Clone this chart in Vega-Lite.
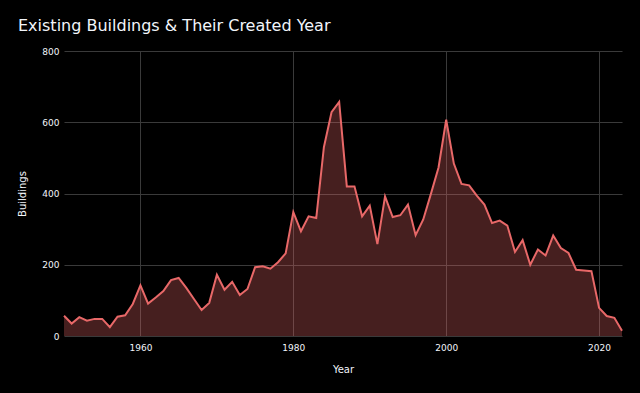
{
  "$schema": "https://vega.github.io/schema/vega-lite/v6.json",
  "width": 558,
  "height": 285,
  "autosize": {"type": "none"},
  "padding": {"left": 64, "top": 51, "right": 18, "bottom": 57},
  "background": "#000000",
  "title": {
    "text": "Existing Buildings & Their Created Year",
    "anchor": "start",
    "frame": "group",
    "dx": -46,
    "offset": 13,
    "font": "DejaVu Sans",
    "fontSize": 16,
    "fontWeight": "normal",
    "color": "#f2f5fa"
  },
  "config": {
    "view": {"stroke": null},
    "axis": {
      "labelFont": "DejaVu Sans",
      "titleFont": "DejaVu Sans",
      "labelFontSize": 9,
      "titleFontSize": 10,
      "titleFontWeight": "normal",
      "labelColor": "#f2f5fa",
      "titleColor": "#f2f5fa",
      "gridColor": "#3a3a3a",
      "gridWidth": 1,
      "domain": false,
      "ticks": false
    }
  },
  "data": {
    "values": [
      {"Year": 1950, "Buildings": 57},
      {"Year": 1951, "Buildings": 35},
      {"Year": 1952, "Buildings": 53},
      {"Year": 1953, "Buildings": 43},
      {"Year": 1954, "Buildings": 48},
      {"Year": 1955, "Buildings": 48},
      {"Year": 1956, "Buildings": 25},
      {"Year": 1957, "Buildings": 54},
      {"Year": 1958, "Buildings": 58},
      {"Year": 1959, "Buildings": 90},
      {"Year": 1960, "Buildings": 142},
      {"Year": 1961, "Buildings": 91},
      {"Year": 1962, "Buildings": 108},
      {"Year": 1963, "Buildings": 126},
      {"Year": 1964, "Buildings": 157},
      {"Year": 1965, "Buildings": 163},
      {"Year": 1966, "Buildings": 135},
      {"Year": 1967, "Buildings": 104},
      {"Year": 1968, "Buildings": 73},
      {"Year": 1969, "Buildings": 93},
      {"Year": 1970, "Buildings": 172},
      {"Year": 1971, "Buildings": 130},
      {"Year": 1972, "Buildings": 152},
      {"Year": 1973, "Buildings": 115},
      {"Year": 1974, "Buildings": 132},
      {"Year": 1975, "Buildings": 193},
      {"Year": 1976, "Buildings": 196},
      {"Year": 1977, "Buildings": 189},
      {"Year": 1978, "Buildings": 207},
      {"Year": 1979, "Buildings": 232},
      {"Year": 1980, "Buildings": 348},
      {"Year": 1981, "Buildings": 294},
      {"Year": 1982, "Buildings": 336},
      {"Year": 1983, "Buildings": 331},
      {"Year": 1984, "Buildings": 530},
      {"Year": 1985, "Buildings": 628},
      {"Year": 1986, "Buildings": 657},
      {"Year": 1987, "Buildings": 420},
      {"Year": 1988, "Buildings": 420},
      {"Year": 1989, "Buildings": 336},
      {"Year": 1990, "Buildings": 366},
      {"Year": 1991, "Buildings": 258},
      {"Year": 1992, "Buildings": 392},
      {"Year": 1993, "Buildings": 334},
      {"Year": 1994, "Buildings": 339},
      {"Year": 1995, "Buildings": 369},
      {"Year": 1996, "Buildings": 283},
      {"Year": 1997, "Buildings": 327},
      {"Year": 1998, "Buildings": 399},
      {"Year": 1999, "Buildings": 473},
      {"Year": 2000, "Buildings": 607},
      {"Year": 2001, "Buildings": 484},
      {"Year": 2002, "Buildings": 427},
      {"Year": 2003, "Buildings": 423},
      {"Year": 2004, "Buildings": 394},
      {"Year": 2005, "Buildings": 369},
      {"Year": 2006, "Buildings": 317},
      {"Year": 2007, "Buildings": 324},
      {"Year": 2008, "Buildings": 310},
      {"Year": 2009, "Buildings": 236},
      {"Year": 2010, "Buildings": 269},
      {"Year": 2011, "Buildings": 200},
      {"Year": 2012, "Buildings": 243},
      {"Year": 2013, "Buildings": 226},
      {"Year": 2014, "Buildings": 282},
      {"Year": 2015, "Buildings": 247},
      {"Year": 2016, "Buildings": 233},
      {"Year": 2017, "Buildings": 186},
      {"Year": 2018, "Buildings": 184},
      {"Year": 2019, "Buildings": 182},
      {"Year": 2020, "Buildings": 79},
      {"Year": 2021, "Buildings": 56},
      {"Year": 2022, "Buildings": 51},
      {"Year": 2023, "Buildings": 15}
    ]
  },
  "mark": {
    "type": "area",
    "color": "#e86868",
    "fillOpacity": 0.3,
    "line": {"color": "#e86868", "strokeWidth": 2}
  },
  "encoding": {
    "x": {
      "field": "Year",
      "type": "quantitative",
      "scale": {"domain": [1950, 2023], "nice": false, "zero": false},
      "axis": {"values": [1960, 1980, 2000, 2020], "format": "d", "labelPadding": 7, "titlePadding": 12, "labelFlush": false}
    },
    "y": {
      "field": "Buildings",
      "type": "quantitative",
      "scale": {"domain": [0, 800], "nice": false},
      "axis": {"values": [0, 200, 400, 600, 800], "labelPadding": 5, "titlePadding": 14}
    }
  }
}
